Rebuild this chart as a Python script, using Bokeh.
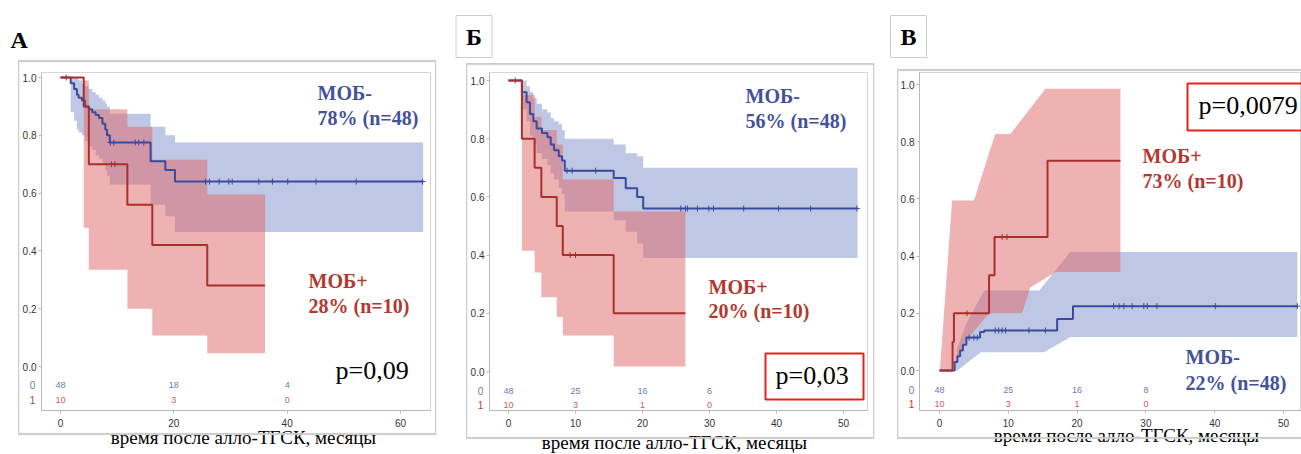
from bokeh.plotting import figure
from bokeh.models import Label, BoxAnnotation, Range1d, FixedTicker, NumeralTickFormatter
from bokeh.layouts import row
from bokeh.embed import file_html
from bokeh.resources import INLINE
from bokeh.core.properties import value

# ---------------- DATA ----------------
# Panel А (overall survival)
a_neg_t = [0, 1.8, 2.4, 2.9, 3.2, 3.8, 4.3, 5.0, 5.6, 6.2, 6.8, 7.4, 7.9, 8.2, 8.7, 15.9, 18.5, 20.2]
a_neg_s = [1.0, 0.98, 0.96, 0.94, 0.93, 0.92, 0.90, 0.89, 0.88, 0.87, 0.86, 0.84, 0.82, 0.80, 0.775, 0.71, 0.68, 0.64]
a_neg_up = [1.0, 1.0, 1.0, 1.0, 0.99, 0.98, 0.97, 0.96, 0.95, 0.94, 0.93, 0.92, 0.91, 0.90, 0.875, 0.83, 0.80, 0.775]
a_neg_lo = [1.0, 0.88, 0.85, 0.82, 0.81, 0.80, 0.78, 0.76, 0.75, 0.73, 0.72, 0.70, 0.68, 0.66, 0.63, 0.56, 0.52, 0.465]
a_neg_end = 64.0
a_neg_cens = [1.0, 8.8, 9.4, 13.2, 13.8, 14.7, 25.6, 26.3, 28.0, 29.7, 30.3, 35.0, 37.4, 40.1, 45.1, 52.2, 63.9]
a_pos_t = [0, 4.1, 5.0, 11.8, 16.2, 25.9]
a_pos_s = [1.0, 0.90, 0.70, 0.56, 0.42, 0.28]
a_pos_up = [1.0, 0.99, 0.89, 0.83, 0.715, 0.595]
a_pos_lo = [1.0, 0.48, 0.335, 0.20, 0.107, 0.046]
a_pos_end = 36.1
a_pos_cens = [9.0, 9.6]
a_risk_t = [0, 20, 40]
a_risk_neg = ["48", "18", "4"]
a_risk_pos = ["10", "3", "0"]
a_xticks = [0, 20, 40, 60]

# Panel Б
b_neg_t = [0, 2.0, 2.7, 3.2, 3.7, 4.2, 5.0, 5.8, 6.3, 6.8, 7.5, 8.0, 8.4, 15.7, 17.5, 19.2, 20.1]
b_neg_s = [1.0, 0.96, 0.925, 0.885, 0.86, 0.835, 0.82, 0.805, 0.78, 0.76, 0.74, 0.725, 0.69, 0.665, 0.63, 0.60, 0.56]
b_neg_up = [1.0, 1.0, 0.98, 0.96, 0.94, 0.92, 0.90, 0.89, 0.87, 0.86, 0.85, 0.83, 0.80, 0.78, 0.75, 0.74, 0.70]
b_neg_lo = [1.0, 0.90, 0.86, 0.81, 0.78, 0.75, 0.73, 0.71, 0.68, 0.66, 0.63, 0.61, 0.55, 0.52, 0.48, 0.44, 0.39]
b_neg_end = 52.1
b_neg_cens = [1.0, 8.75, 9.5, 13.0, 25.7, 26.4, 26.7, 28.2, 29.9, 30.6, 35.1, 40.3, 45.1, 52.0]
b_pos_t = [0, 2.0, 3.9, 4.9, 7.2, 8.1, 15.7]
b_pos_s = [1.0, 0.80, 0.70, 0.60, 0.50, 0.40, 0.20]
b_pos_up = [1.0, 0.95, 0.875, 0.83, 0.78, 0.66, 0.55]
b_pos_lo = [1.0, 0.415, 0.34, 0.255, 0.187, 0.124, 0.017]
b_pos_end = 26.4
b_pos_cens = [9.2, 10.0]
b_risk_t = [0, 10, 20, 30]
b_risk_neg = ["48", "25", "16", "6"]
b_risk_pos = ["10", "3", "1", "0"]
bc_xticks = [0, 10, 20, 30, 40, 50]

# Panel В (cumulative incidence)
c_pos_t = [0, 1.9, 2.1, 7.2, 8.0, 15.7]
c_pos_s = [0, 0.10, 0.20, 0.333, 0.467, 0.733]
c_pos_end = 26.3
c_pos_cens = [4.0, 9.1, 9.8]
c_pos_up_t = [0.05, 1.84, 5.0, 8.1, 10.3, 15.4, 26.3]
c_pos_up_s = [0.0, 0.594, 0.594, 0.827, 0.827, 0.985, 0.985]
c_pos_lo_t = [0.05, 1.84, 2.1, 3.7, 7.2, 12.0, 13.2, 16.9, 26.3]
c_pos_lo_s = [0.0, 0.0, 0.02, 0.10, 0.20, 0.20, 0.29, 0.344, 0.344]
c_neg_t = [0, 2.2, 2.6, 3.0, 3.4, 3.9, 5.9, 6.5, 17.1, 19.4]
c_neg_s = [0, 0.03, 0.05, 0.07, 0.09, 0.115, 0.135, 0.14, 0.18, 0.225]
c_neg_end = 52.0
c_neg_cens = [4.3, 5.0, 5.5, 8.1, 8.6, 9.1, 9.6, 13.0, 15.4, 25.3, 26.1, 26.8, 28.0, 29.7, 30.2, 31.6, 40.1, 52.0]
c_neg_up_t = [2.2, 2.6, 4.0, 6.5, 14.5, 19.0, 52.0]
c_neg_up_s = [0.0, 0.08, 0.17, 0.28, 0.28, 0.414, 0.414]
c_neg_lo_t = [2.2, 2.6, 6.0, 15.2, 19.0, 52.0]
c_neg_lo_s = [0.0, 0.0, 0.064, 0.064, 0.117, 0.117]
c_risk_t = [0, 10, 20, 30]
c_risk_neg = ["48", "25", "16", "8"]
c_risk_pos = ["10", "3", "1", "0"]

y_ticks = [0.0, 0.2, 0.4, 0.6, 0.8, 1.0]
xlabel = "время после алло-ТГСК, месяцы"

# ---------------- STYLE ----------------
BLUE = "#3b4a9c"
RED = "#a8302b"
BLUE_BAND = "#7d8fc9"
RED_BAND = "#e06666"
TXT_BLUE = "#44529b"
TXT_RED = "#b2392f"
RISK_BLUE = "#6b7ab0"
RISK_RED = "#d05a5a"
FRAME = "#cccccc"
SERIF = "Liberation Serif"
SANS = "Liberation Sans"
H = 454
TOP = 72      # common frame top (frames of a row are aligned)
BOT = 410     # common frame bottom


def step_xy(t, s, end):
    xs, ys = [], []
    for i in range(len(t)):
        if i > 0:
            xs.append(t[i]); ys.append(s[i - 1])
        xs.append(t[i]); ys.append(s[i])
    xs.append(end); ys.append(s[-1])
    return xs, ys


def value_at(t, s, x):
    v = s[0]
    for ti, si in zip(t, s):
        if ti <= x:
            v = si
    return v


def panel(W, l, r, x0, kx, y0, ky, xticks):
    p = figure(width=W, height=H,
               x_range=Range1d((l - x0) / kx, (r - x0) / kx),
               y_range=Range1d((y0 - BOT) / ky, (y0 - TOP) / ky),
               output_backend="svg", toolbar_location=None,
               min_border_left=l, min_border_right=W - r,
               min_border_top=TOP, min_border_bottom=H - BOT)
    p.xgrid.visible = False
    p.ygrid.visible = False
    p.outline_line_color = "#d4d4d4"
    p.background_fill_color = "white"
    p.border_fill_color = "white"
    p.xaxis.ticker = FixedTicker(ticks=xticks)
    p.yaxis.ticker = FixedTicker(ticks=y_ticks)
    p.yaxis.formatter = NumeralTickFormatter(format="0.0")
    for ax in (p.xaxis[0], p.yaxis[0]):
        ax.axis_line_color = "#b8b8b8"
        ax.major_tick_line_color = "#b8b8b8"
        ax.minor_tick_line_color = None
        ax.major_tick_out = 3
        ax.major_tick_in = 0
        ax.major_label_text_font = SANS
        ax.major_label_text_font_size = "10px"
        ax.major_label_text_color = "#333333"
    p.xaxis.major_label_standoff = 5
    p.yaxis.major_label_standoff = 2
    px = lambda X: (X - x0) / kx
    py = lambda Y: (y0 - Y) / ky
    return p, px, py


def lab(p, x, y, text, size, color="black", font=SERIF, style="normal", align="left", side=None):
    # y is the vertical centre of the capitals (pixel position mapped to data)
    L = Label(x=x, y=y, text=text, text_font=font, text_font_size=f"{size}px",
              text_color=color, text_font_style=style, text_align=align,
              text_baseline="middle")
    if side:
        p.add_layout(L, side)
    else:
        p.add_layout(L)


def edge(p, px, py, x, y, w, h, side):
    p.add_layout(Label(x=px(x), y=py(y), text=" ", text_font_size="1px", text_align="left",
                       text_baseline="top", padding=dict(left=0, right=int(w), top=0, bottom=int(h)),
                       border_line_color=FRAME, border_line_width=1), side)


def outer_frame(p, px, py, l, r, t, b, right=True):
    edge(p, px, py, l, t, r - l, 0, "above")
    edge(p, px, py, l, b, r - l, 0, "below")
    edge(p, px, py, l, t, 0, b - t, "left")
    if right:
        edge(p, px, py, r, t, 0, b - t, "right")


def letter_box(p, x, y, text, pad):
    p.add_layout(Label(x=x, y=y, text=text, text_font=SERIF, text_font_size="24px",
                       text_font_style="bold", text_color="black", text_align="center",
                       text_baseline="middle", padding=pad,
                       border_line_color=FRAME, border_line_width=1), "above")


def pbox(p, l, r, t, b):
    p.add_layout(BoxAnnotation(left=l, right=r, top=t, bottom=b, fill_color=None, fill_alpha=0,
                               line_color="#e8201c", line_alpha=1.0, line_width=2))


def step_band(p, t, up, lo, end, color):
    xu, yu = step_xy(t, up, end)
    xl, yl = step_xy(t, lo, end)
    p.patch(xu + xl[::-1], yu + yl[::-1], fill_color=color, fill_alpha=0.5, line_color=None)


def lin_band(p, ut, us, lt, ls, color):
    p.patch(ut + lt[::-1], us + ls[::-1], fill_color=color, fill_alpha=0.5, line_color=None)


def curve(p, t, s, end, cens, color):
    xs, ys = step_xy(t, s, end)
    p.line(xs, ys, line_color=color, line_width=2)
    p.scatter(cens, [value_at(t, s, c) for c in cens], marker="cross", size=6,
              line_color=color, line_width=1)


def risk(p, t, neg, pos, yn, yp):
    p.text(x=t, y=[yn] * len(t), text=neg, text_font=value(SANS), text_font_size="9px",
           text_color=RISK_BLUE, text_align="center", text_baseline="middle")
    p.text(x=t, y=[yp] * len(t), text=pos, text_font=value(SANS), text_font_size="9px",
           text_color=RISK_RED, text_align="center", text_baseline="middle")


def rowlabels(p, x, yn, yp):
    p.add_layout(Label(x=x, y=yn, text="0", text_font=SANS, text_font_size="10px",
                       text_color="#6b7ab0", text_align="center", text_baseline="middle"), "left")
    p.add_layout(Label(x=x, y=yp, text="1", text_font=SANS, text_font_size="10px",
                       text_color="#c0392b", text_align="center", text_baseline="middle"), "left")


# ---------------- Panel А ----------------
pA, pxA, pyA = panel(450, 41, 430, 60, 113.33 / 20, 366, 289, a_xticks)
step_band(pA, a_neg_t, a_neg_up, a_neg_lo, a_neg_end, BLUE_BAND)
step_band(pA, a_pos_t, a_pos_up, a_pos_lo, a_pos_end, RED_BAND)
curve(pA, a_neg_t, a_neg_s, a_neg_end, a_neg_cens, BLUE)
curve(pA, a_pos_t, a_pos_s, a_pos_end, a_pos_cens, RED)
risk(pA, a_risk_t, a_risk_neg, a_risk_pos, pyA(384), pyA(399))
rowlabels(pA, pxA(32), pyA(384), pyA(399))
outer_frame(pA, pxA, pyA, 18, 435, 60, 433)
lab(pA, pxA(10), pyA(39), "А", 24, style="bold", side="above")
lab(pA, pxA(317), pyA(92), "МОБ-", 20, TXT_BLUE, style="bold")
lab(pA, pxA(317), pyA(117), "78% (n=48)", 20, TXT_BLUE, style="bold")
lab(pA, pxA(308), pyA(280), "МОБ+", 20, TXT_RED, style="bold")
lab(pA, pxA(308), pyA(305), "28% (n=10)", 20, TXT_RED, style="bold")
lab(pA, pxA(335), pyA(370), "p=0,09", 26)
lab(pA, pxA(243), pyA(437), xlabel, 19, align="center", side="above")

# ---------------- Panel Б ----------------
pB, pxB, pyB = panel(430, 39, 417, 58, 6.7, 371, 291, bc_xticks)
step_band(pB, b_neg_t, b_neg_up, b_neg_lo, b_neg_end, BLUE_BAND)
step_band(pB, b_pos_t, b_pos_up, b_pos_lo, b_pos_end, RED_BAND)
curve(pB, b_neg_t, b_neg_s, b_neg_end, b_neg_cens, BLUE)
curve(pB, b_pos_t, b_pos_s, b_pos_end, b_pos_cens, RED)
risk(pB, b_risk_t, b_risk_neg, b_risk_pos, pyB(390), pyB(404))
rowlabels(pB, pxB(30), pyB(390), pyB(404))
outer_frame(pB, pxB, pyB, 16, 423, 63, 437)
letter_box(pB, pxB(23.5), pyB(36), "Б", dict(left=10, right=10, top=8, bottom=8))
lab(pB, pxB(295), pyB(95.5), "МОБ-", 20, TXT_BLUE, style="bold")
lab(pB, pxB(295), pyB(120), "56% (n=48)", 20, TXT_BLUE, style="bold")
lab(pB, pxB(258), pyB(286.5), "МОБ+", 20, TXT_RED, style="bold")
lab(pB, pxB(258), pyB(310), "20% (n=10)", 20, TXT_RED, style="bold")
pbox(pB, pxB(315), pxB(413), pyB(353), pyB(399))
lab(pB, pxB(325), pyB(375), "p=0,03", 26)
lab(pB, pxB(224), pyB(442), xlabel, 19, align="center", side="above")

# ---------------- Panel В ----------------
pC, pxC, pyC = panel(421, 39, 421, 59, 6.88, 370, 286, bc_xticks)
lin_band(pC, c_neg_up_t, c_neg_up_s, c_neg_lo_t, c_neg_lo_s, BLUE_BAND)
lin_band(pC, c_pos_up_t, c_pos_up_s, c_pos_lo_t, c_pos_lo_s, RED_BAND)
curve(pC, c_neg_t, c_neg_s, c_neg_end, c_neg_cens, BLUE)
curve(pC, c_pos_t, c_pos_s, c_pos_end, c_pos_cens, RED)
risk(pC, c_risk_t, c_risk_neg, c_risk_pos, pyC(389), pyC(403))
rowlabels(pC, pxC(31), pyC(389), pyC(403))
outer_frame(pC, pxC, pyC, 17, 440, 69, 437, right=False)
letter_box(pC, pxC(28), pyC(36), "В", dict(left=10, right=10, top=8, bottom=8))
pbox(pC, pxC(307), pxC(440), pyC(83), pyC(130))
lab(pC, pxC(318), pyC(105), "p=0,0079", 26)
lab(pC, pxC(262), pyC(155), "МОБ+", 20, TXT_RED, style="bold")
lab(pC, pxC(262), pyC(180), "73% (n=10)", 20, TXT_RED, style="bold")
lab(pC, pxC(305), pyC(356.5), "МОБ-", 20, TXT_BLUE, style="bold")
lab(pC, pxC(305), pyC(382), "22% (n=48)", 20, TXT_BLUE, style="bold")
lab(pC, pxC(246), pyC(435), xlabel, 19, align="center", side="above")

layout = row(pA, pB, pC, spacing=0)
open("out.html", "w").write(file_html(layout, INLINE))
